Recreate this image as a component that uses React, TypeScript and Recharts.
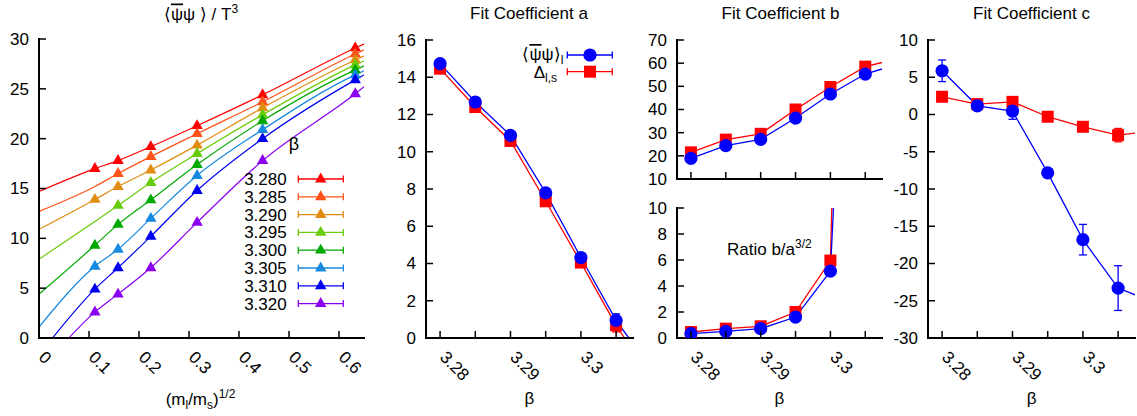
import React from "react";
import {
  ComposedChart,
  Line,
  Scatter,
  XAxis,
  YAxis,
  ErrorBar,
  Legend,
} from "recharts";

const FONT = '"Liberation Sans", Arial, Helvetica, sans-serif';
const FS = 17;
const TICK = 7;
const AX = { stroke: "#000", strokeWidth: 2, strokeLinecap: "square" as const };

// ---- panel 1: condensate vs sqrt(ml/ms) ----
const sqrtMassRatio = [0.1118, 0.1581, 0.2236, 0.3162, 0.4472, 0.6325];
const betaLabels = ["3.280", "3.285", "3.290", "3.295", "3.300", "3.305", "3.310", "3.320"];
const betaColors = ["#ff0000", "#ff5218", "#e08c10", "#68cc08", "#00a800", "#168ae0", "#0000f0", "#8a00f0"];

const pbp3280 = [17.0, 17.8, 19.2, 21.3, 24.4, 29.1];
const pbp3285 = [null, 16.5, 18.2, 20.5, 23.7, 28.5];
const pbp3290 = [13.9, 15.2, 16.85, 19.35, 23.1, 27.9];
const pbp3295 = [null, 13.3, 15.6, 18.5, 22.4, 27.4];
const pbp3300 = [9.3, 11.4, 13.85, 17.4, 21.8, 26.9];
const pbp3305 = [7.2, 8.9, 12.0, 16.3, 20.9, 26.4];
const pbp3310 = [4.9, 7.05, 10.2, 14.8, 20.0, 25.9];
const pbp3320 = [2.6, 4.4, 7.05, 11.6, 17.8, 24.5];
const condensate = [pbp3280, pbp3285, pbp3290, pbp3295, pbp3300, pbp3305, pbp3310, pbp3320];

// fit curves
const fitX = [0, 0.1118, 0.1581, 0.2236, 0.3162, 0.4472, 0.6325, 0.65];
const fit3280 = [14.7, 17.0, 17.8, 19.2, 21.3, 24.4, 29.1, 29.5];
const fit3285 = [12.7, 15.2, 16.5, 18.2, 20.5, 23.7, 28.5, 28.9];
const fit3290 = [10.9, 13.9, 15.2, 16.85, 19.35, 23.1, 27.9, 28.3];
const fit3295 = [7.9, 11.7, 13.3, 15.6, 18.5, 22.4, 27.4, 27.8];
const fit3300 = [4.4, 9.3, 11.4, 13.85, 17.4, 21.8, 26.9, 27.3];
const fit3305 = [1.1, 7.2, 8.9, 12.0, 16.3, 20.9, 26.4, 26.8];
const fit3310 = [-1.7, 4.9, 7.05, 10.2, 14.8, 20.0, 25.9, 26.4];
const fit3320 = [-3.4, 2.6, 4.4, 7.05, 11.6, 17.8, 24.5, 25.2];
const fits = [fit3280, fit3285, fit3290, fit3295, fit3300, fit3305, fit3310, fit3320];

const massTicks = [0, 0.1, 0.2, 0.3, 0.4, 0.5, 0.6];
const pbpTicks = [0, 5, 10, 15, 20, 25, 30];

// ---- panels 2-4: fit coefficients vs beta ----
const betas = [3.28, 3.285, 3.29, 3.295, 3.3, 3.305];
const betaTicks = [3.28, 3.285, 3.29, 3.295, 3.3, 3.305];
const betaDomain: [number, number] = [3.278, 3.3074];

const aCond = [14.73, 12.67, 10.88, 7.79, 4.32, 0.95];
const aCondErr = [0.12, 0.12, 0.12, 0.15, 0.2, 0.35];
const aCondTail = [3.3068, 0];
const aDelta = [14.46, 12.4, 10.58, 7.34, 4.05, 0.68];
const aDeltaErr = [0.1, 0.1, 0.1, 0.12, 0.15, 0.35];
const aDeltaTail = [3.3062, 0];

const bCond = [18.9, 24.4, 27.1, 36.3, 46.7, 55.3];
const bCondErr = [0.8, 0.8, 0.8, 0.8, 1.0, 1.2];
const bCondTail = [3.3074, 57.5];
const bDelta = [21.5, 27.0, 29.5, 40.0, 49.7, 58.5];
const bDeltaErr = [0.8, 0.8, 0.8, 0.8, 1.0, 1.2];
const bDeltaTail = [3.3074, 60.3];

const ratioCond = [0.34, 0.51, 0.72, 1.61, 5.14, 60];
const ratioCondErr = [0.05, 0.05, 0.05, 0.08, 0.2, 2];
const ratioDelta = [0.46, 0.72, 0.9, 2.0, 5.96, 105];
const ratioDeltaErr = [0.05, 0.05, 0.05, 0.08, 0.2, 2];

const cCond = [5.87, 1.17, 0.46, -7.83, -16.8, -23.3];
const cCondErr = [1.45, 0.3, 1.1, 0.4, 2.05, 3.0];
const cCondTail = [3.3074, -24.2];
const cDelta = [2.38, 1.4, 1.7, -0.3, -1.65, -2.77];
const cDeltaErr = [0.3, 0.3, 0.3, 0.3, 0.3, 0.9];
const cDeltaTail = [3.3074, -2.5];

const BLUE = "#0000ff";
const RED = "#ff0000";

const pts = (xs: number[], ys: (number | null)[], errs?: number[]) =>
  xs
    .map((x, i) => ({ x, y: ys[i], err: errs ? errs[i] : 0 }))
    .filter((p) => p.y !== null);

const withTail = (xs: number[], ys: number[], tail: number[]) => [
  ...pts(xs, ys),
  { x: tail[0], y: tail[1] },
];

const isMajor = (v: number) => Math.abs(v * 100 - Math.round(v * 100)) < 1e-6;

// ---- ticks drawn inward, gnuplot style ----
const bottomTick = (show: (v: number) => boolean) => (p: any) => {
  const { x, y, payload } = p;
  const tx = x + 3;
  const ty = y + 16;
  return (
    <g>
      <line x1={x} y1={y} x2={x} y2={y - TICK} stroke="#000" strokeWidth={1.5} />
      {show(payload.value) && (
        <text
          x={tx}
          y={ty}
          dy="0.35em"
          transform={`rotate(45 ${tx} ${ty})`}
          textAnchor="start"
          fontSize={FS}
          fontFamily={FONT}
          fill="#000"
        >
          {String(payload.value)}
        </text>
      )}
    </g>
  );
};

const topTick = (p: any) => (
  <line x1={p.x} y1={p.y} x2={p.x} y2={p.y + TICK} stroke="#000" strokeWidth={1.5} />
);

const leftTick = (gap: number) => (p: any) => (
  <g>
    <line x1={p.x} y1={p.y} x2={p.x + TICK} y2={p.y} stroke="#000" strokeWidth={1.5} />
    <text
      x={p.x - gap}
      y={p.y}
      dy="0.35em"
      textAnchor="end"
      fontSize={FS}
      fontFamily={FONT}
      fill="#000"
    >
      {String(p.payload.value)}
    </text>
  </g>
);

const rightTick = (p: any) => (
  <line x1={p.x} y1={p.y} x2={p.x - TICK} y2={p.y} stroke="#000" strokeWidth={1.5} />
);

function frame(o: {
  xDomain: [number, number];
  xTicks: number[];
  xLabel: (v: number) => boolean;
  yDomain: [number, number];
  yTicks: number[];
  yWidth: number;
  xHeight: number;
}) {
  return [
    <XAxis key="xb" type="number" dataKey="x" domain={o.xDomain} ticks={o.xTicks} interval={0}
      allowDataOverflow height={o.xHeight} tickSize={0} tickMargin={0} tickLine={false}
      axisLine={AX} tick={bottomTick(o.xLabel)} />,
    <XAxis key="xt" xAxisId="t" orientation="top" type="number" dataKey="x" domain={o.xDomain}
      ticks={o.xTicks} interval={0} allowDataOverflow height={0} tickSize={0} tickMargin={0}
      tickLine={false} axisLine={AX} tick={topTick} />,
    <YAxis key="yl" type="number" dataKey="y" domain={o.yDomain} ticks={o.yTicks} interval={0}
      allowDataOverflow width={o.yWidth} tickSize={0} tickMargin={0} tickLine={false}
      axisLine={AX} tick={leftTick(10)} />,
    <YAxis key="yr" yAxisId="r" orientation="right" type="number" dataKey="y" domain={o.yDomain}
      ticks={o.yTicks} interval={0} allowDataOverflow width={0} tickSize={0} tickMargin={0}
      tickLine={false} axisLine={AX} tick={rightTick} />,
  ];
}

const triShape = (color: string) => (p: any) => (
  <polygon
    points={`${p.cx},${p.cy - 6.5} ${p.cx - 5.7},${p.cy + 3.4} ${p.cx + 5.7},${p.cy + 3.4}`}
    fill={color}
  />
);
const circleShape = (p: any) => <circle cx={p.cx} cy={p.cy} r={6.6} fill={BLUE} />;
const squareShape = (p: any) => (
  <rect x={p.cx - 6} y={p.cy - 6} width={12} height={12} fill={RED} />
);

function Sample({ x1, x2, y, color }: { x1: number; x2: number; y: number; color: string }) {
  return (
    <g stroke={color} strokeWidth={1.3}>
      <line x1={x1} y1={y} x2={x2} y2={y} />
      <line x1={x1} y1={y - 3.5} x2={x1} y2={y + 3.5} />
      <line x1={x2} y1={y - 3.5} x2={x2} y2={y + 3.5} />
    </g>
  );
}

// psi-bar psi with the bar drawn as an overline on the first psi
function PsiBarPsi() {
  return (
    <>
      <tspan>⟨</tspan>
      <tspan style={{ textDecoration: "overline" }}>ψ</tspan>
      <tspan>ψ</tspan>
    </>
  );
}

function BetaLegend() {
  return (
    <svg width={125} height={185} style={{ overflow: "visible" }}>
      <text x={64} y={20} textAnchor="middle" fontSize={18} fontFamily={FONT}>β</text>
      {betaLabels.map((b, i) => {
        const y = 49 + 17.8 * i;
        const c = 90.7;
        return (
          <g key={b}>
            <text x={56.7} y={y} dy="0.35em" textAnchor="end" fontSize={FS} fontFamily={FONT}>
              {b}
            </text>
            <Sample x1={68.3} x2={113.3} y={y} color={betaColors[i]} />
            <polygon
              points={`${c},${y - 6.5} ${c - 5.7},${y + 3.4} ${c + 5.7},${y + 3.4}`}
              fill={betaColors[i]}
            />
          </g>
        );
      })}
    </svg>
  );
}

function CoefLegend() {
  return (
    <svg width={110} height={45} style={{ overflow: "visible" }}>
      <text x={53.3} y={20} textAnchor="end" fontSize={FS} fontFamily={FONT}>
        <PsiBarPsi />
        <tspan>⟩</tspan>
        <tspan fontSize={12} dy={4}>l</tspan>
      </text>
      <Sample x1={57.3} x2={102.3} y={15} color={BLUE} />
      <circle cx={80} cy={15} r={6.6} fill={BLUE} />
      <text x={47} y={37.5} textAnchor="end" fontSize={FS} fontFamily={FONT}>
        Δ<tspan fontSize={12} dy={4}>l,s</tspan>
      </text>
      <Sample x1={57.3} x2={102.3} y={31.7} color={RED} />
      <rect x={74} y={25.7} width={12} height={12} fill={RED} />
    </svg>
  );
}

function Panel({ left, top, width, height, children }: any) {
  return <div style={{ position: "absolute", left, top, width, height }}>{children}</div>;
}

export default function App() {
  const lineProps = { type: "linear" as const, dot: false, strokeWidth: 1.3, isAnimationActive: false };
  return (
    <div
      style={{
        position: "absolute",
        left: 0,
        top: 0,
        width: 1137,
        height: 416,
        background: "#fff",
        fontFamily: FONT,
      }}
    >
      {/* panel 1 */}
      <Panel left={0} top={0} width={370} height={416}>
        <ComposedChart width={370} height={416} margin={{ top: 39, right: 6, bottom: 0, left: 0 }}>
          {frame({
            xDomain: [0, 0.65],
            xTicks: massTicks,
            xLabel: () => true,
            yDomain: [0, 30],
            yTicks: pbpTicks,
            yWidth: 39,
            xHeight: 78,
          })}
          {fits.map((f, i) => (
            <Line
              key={"fit" + i}
              data={pts(fitX, f)}
              dataKey="y"
              {...lineProps}
              type="monotone"
              stroke={betaColors[i]}
              strokeWidth={1.2}
            />
          ))}
          {condensate.map((c, i) => (
            <Scatter
              key={"pbp" + i}
              data={pts(sqrtMassRatio, c)}
              dataKey="y"
              shape={triShape(betaColors[i])}
              isAnimationActive={false}
            />
          ))}
          <Legend
            layout="vertical"
            align="center"
            verticalAlign="middle"
            wrapperStyle={{ left: 230, top: 130, width: 125, height: 185 }}
            content={() => <BetaLegend />}
          />
        </ComposedChart>
      </Panel>

      {/* panel 2: coefficient a */}
      <Panel left={380} top={0} width={258} height={416}>
        <ComposedChart width={258} height={416} margin={{ top: 40, right: 5, bottom: 0, left: 0 }}>
          {frame({
            xDomain: betaDomain,
            xTicks: betaTicks,
            xLabel: isMajor,
            yDomain: [0, 16],
            yTicks: [0, 2, 4, 6, 8, 10, 12, 14, 16],
            yWidth: 46,
            xHeight: 78,
          })}
          <Line data={withTail(betas, aDelta, aDeltaTail)} dataKey="y" {...lineProps} stroke={RED} />
          <Scatter data={pts(betas, aDelta, aDeltaErr)} dataKey="y" shape={squareShape} isAnimationActive={false}>
            <ErrorBar dataKey="err" direction="y" width={4} stroke={RED} strokeWidth={1.3} />
          </Scatter>
          <Line data={withTail(betas, aCond, aCondTail)} dataKey="y" {...lineProps} stroke={BLUE} />
          <Scatter data={pts(betas, aCond, aCondErr)} dataKey="y" shape={circleShape} isAnimationActive={false}>
            <ErrorBar dataKey="err" direction="y" width={4} stroke={BLUE} strokeWidth={1.3} />
          </Scatter>
          <Legend
            layout="vertical"
            align="center"
            verticalAlign="middle"
            wrapperStyle={{ left: 130, top: 40, width: 110, height: 45 }}
            content={() => <CoefLegend />}
          />
        </ComposedChart>
      </Panel>

      {/* panel 3 top: coefficient b */}
      <Panel left={640} top={0} width={248} height={200}>
        <ComposedChart width={248} height={200} margin={{ top: 40, right: 6, bottom: 0, left: 0 }}>
          {frame({
            xDomain: betaDomain,
            xTicks: betaTicks,
            xLabel: () => false,
            yDomain: [10, 70],
            yTicks: [10, 20, 30, 40, 50, 60, 70],
            yWidth: 37,
            xHeight: 21,
          })}
          <Line data={withTail(betas, bDelta, bDeltaTail)} dataKey="y" {...lineProps} stroke={RED} />
          <Scatter data={pts(betas, bDelta, bDeltaErr)} dataKey="y" shape={squareShape} isAnimationActive={false}>
            <ErrorBar dataKey="err" direction="y" width={4} stroke={RED} strokeWidth={1.3} />
          </Scatter>
          <Line data={withTail(betas, bCond, bCondTail)} dataKey="y" {...lineProps} stroke={BLUE} />
          <Scatter data={pts(betas, bCond, bCondErr)} dataKey="y" shape={circleShape} isAnimationActive={false}>
            <ErrorBar dataKey="err" direction="y" width={4} stroke={BLUE} strokeWidth={1.3} />
          </Scatter>
        </ComposedChart>
      </Panel>

      {/* panel 3 bottom: ratio b/a^(3/2) */}
      <Panel left={640} top={200} width={248} height={216}>
        <ComposedChart width={248} height={216} margin={{ top: 8, right: 6, bottom: 0, left: 0 }}>
          {frame({
            xDomain: betaDomain,
            xTicks: betaTicks,
            xLabel: isMajor,
            yDomain: [0, 10],
            yTicks: [0, 2, 4, 6, 8, 10],
            yWidth: 37,
            xHeight: 78,
          })}
          <Line data={pts(betas, ratioDelta)} dataKey="y" {...lineProps} stroke={RED} />
          <Scatter
            data={pts(betas, ratioDelta, ratioDeltaErr).filter((p) => (p.y as number) <= 10)}
            dataKey="y"
            shape={squareShape}
            isAnimationActive={false}
          >
            <ErrorBar dataKey="err" direction="y" width={4} stroke={RED} strokeWidth={1.3} />
          </Scatter>
          <Line data={pts(betas, ratioCond)} dataKey="y" {...lineProps} stroke={BLUE} />
          <Scatter
            data={pts(betas, ratioCond, ratioCondErr).filter((p) => (p.y as number) <= 10)}
            dataKey="y"
            shape={circleShape}
            isAnimationActive={false}
          >
            <ErrorBar dataKey="err" direction="y" width={4} stroke={BLUE} strokeWidth={1.3} />
          </Scatter>
        </ComposedChart>
      </Panel>

      {/* panel 4: coefficient c */}
      <Panel left={885} top={0} width={252} height={416}>
        <ComposedChart width={252} height={416} margin={{ top: 40, right: 2, bottom: 0, left: 0 }}>
          {frame({
            xDomain: betaDomain,
            xTicks: betaTicks,
            xLabel: isMajor,
            yDomain: [-30, 10],
            yTicks: [-30, -25, -20, -15, -10, -5, 0, 5, 10],
            yWidth: 43,
            xHeight: 78,
          })}
          <Line data={withTail(betas, cDelta, cDeltaTail)} dataKey="y" {...lineProps} stroke={RED} />
          <Scatter data={pts(betas, cDelta, cDeltaErr)} dataKey="y" shape={squareShape} isAnimationActive={false}>
            <ErrorBar dataKey="err" direction="y" width={4} stroke={RED} strokeWidth={1.3} />
          </Scatter>
          <Line data={withTail(betas, cCond, cCondTail)} dataKey="y" {...lineProps} stroke={BLUE} />
          <Scatter data={pts(betas, cCond, cCondErr)} dataKey="y" shape={circleShape} isAnimationActive={false}>
            <ErrorBar dataKey="err" direction="y" width={4} stroke={BLUE} strokeWidth={1.3} />
          </Scatter>
        </ComposedChart>
      </Panel>

      {/* titles and axis labels */}
      <svg
        width={1137}
        height={416}
        style={{ position: "absolute", left: 0, top: 0, pointerEvents: "none" }}
        fontFamily={FONT}
        fontSize={FS}
      >
        <text x={201} y={19.5} textAnchor="middle">
          <PsiBarPsi />
          <tspan>{" ⟩ / T"}</tspan>
          <tspan fontSize={12} dy={-7}>3</tspan>
        </text>
        <text x={529} y={18.5} textAnchor="middle">Fit Coefficient a</text>
        <text x={780.5} y={18.5} textAnchor="middle">Fit Coefficient b</text>
        <text x={1031.5} y={18.5} textAnchor="middle">Fit Coefficient c</text>
        <text x={727} y={255} textAnchor="start">
          Ratio b/a<tspan fontSize={12} dy={-7}>3/2</tspan>
        </text>
        <text x={200.5} y={405} textAnchor="middle">
          (m<tspan fontSize={12} dy={4}>l</tspan>
          <tspan dy={-4}>/m</tspan>
          <tspan fontSize={12} dy={4}>s</tspan>
          <tspan dy={-4}>)</tspan>
          <tspan fontSize={12} dy={-7}>1/2</tspan>
        </text>
        <text x={529.4} y={404} textAnchor="middle">β</text>
        <text x={779.3} y={404} textAnchor="middle">β</text>
        <text x={1031.6} y={404} textAnchor="middle">β</text>
      </svg>
    </div>
  );
}
